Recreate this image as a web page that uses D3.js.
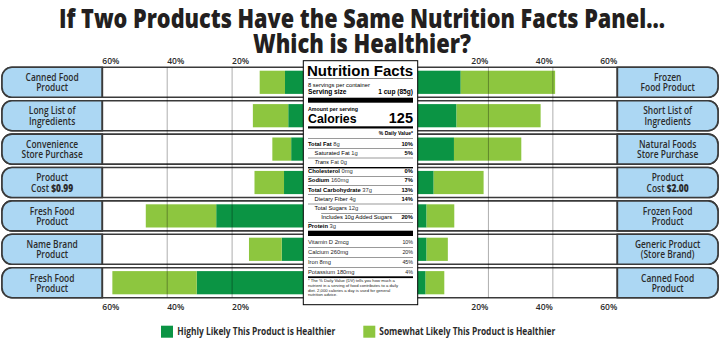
<!DOCTYPE html>
<html>
<head>
<meta charset="utf-8">
<script src="https://cdn.jsdelivr.net/npm/d3@7"></script>
<style>
  body { margin: 0; background: #fff; }
  svg { display: block; }
</style>
</head>
<body>
<script>
// ---- data ----
var leftLabels = [["Canned Food", "Product"], ["Long List of", "Ingredients"], ["Convenience", "Store Purchase"],
  ["Product", "Cost |$0.99"], ["Fresh Food", "Product"], ["Name Brand", "Product"], ["Fresh Food", "Product"]];
var rightLabels = [["Frozen", "Food Product"], ["Short List of", "Ingredients"], ["Natural Foods", "Store Purchase"],
  ["Product", "Cost |$2.00"], ["Frozen Food", "Product"], ["Generic Product", "(Store Brand)"], ["Canned Food", "Product"]];

// percent of respondents
var leftHighly   = [3.7, 2.7, 1.8, 4.0, 24.9, 4.7, 30.9];
var leftSomewhat = [7.8, 10.9, 5.8, 9.1, 21.7, 10.1, 26.0];
var rightHighly   = [11.4, 10.1, 9.3, 3.0, 0.8, 0.8, 0.5];
var rightSomewhat = [29.3, 26.1, 20.9, 15.5, 8.6, 6.6, 5.8];

var tickValues = [20, 40, 60];
var legendLabels = ["Highly Likely This Product is Healthier", "Somewhat Likely This Product is Healthier"];

var titleLines = ["If Two Products Have the Same Nutrition Facts Panel\u2026", "Which is Healthier?"];

// nutrition panel text
var nutrients = [
  {name: "Total Fat", amt: "8g", dv: "10%", indent: 0, bold: true},
  {name: "Saturated Fat", amt: "1g", dv: "5%", indent: 1},
  {name: "Trans", amt: "Fat 0g", dv: "", indent: 1, italic: true},
  {name: "Cholesterol", amt: "0mg", dv: "0%", indent: 0, bold: true},
  {name: "Sodium", amt: "160mg", dv: "7%", indent: 0, bold: true},
  {name: "Total Carbohydrate", amt: "37g", dv: "13%", indent: 0, bold: true},
  {name: "Dietary Fiber", amt: "4g", dv: "14%", indent: 1},
  {name: "Total Sugars", amt: "12g", dv: "", indent: 1},
  {name: "Includes 10g Added Sugars", amt: "", dv: "20%", indent: 2},
  {name: "Protein", amt: "3g", dv: "", indent: 0, bold: true}
];
var vitamins = [["Vitamin D 2mcg", "10%"], ["Calcium 260mg", "20%"], ["Iron 8mg", "45%"], ["Potassium 180mg", "4%"]];
var footnote = ["* The % Daily Value (DV) tells you how much a", "nutrient in a serving of food contributes to a daily",
  "diet. 2,000 calories a day is used for general", "nutrition advice."];

// ---- setup ----
var width = 720, height = 338;
var darkGreen = "#0b9444", lightGreen = "#8dc63f", blue = "#acd7f3", ink = "#2b2b2b";
var labelFont = "'Open Sans', sans-serif";
var panelFont = "'Liberation Sans', Arial, sans-serif";
var squeeze = 0.78; // fake a condensed face

var svg = d3.select("body").append("svg")
  .attr("width", width)
  .attr("height", height);

var xL = d3.scaleLinear().domain([0, 60]).range([297, 102.3]);
var xR = d3.scaleLinear().domain([0, 60]).range([424, 617.3]);
var y = d3.scaleBand().domain(d3.range(7)).range([67.3, 297.7]).paddingInner(0.102);
var tuck = 10; // bars run under the centre panel

// title
svg.selectAll("text.title")
  .data(titleLines)
  .enter()
  .append("text")
  .attr("class", "title")
  .attr("x", 362)
  .attr("y", function(d, i) { return 28 + i * 24.5; })
  .attr("text-anchor", "middle")
  .attr("textLength", function(d, i) { return i == 0 ? 606 : 218; })
  .attr("lengthAdjust", "spacingAndGlyphs")
  .attr("font-family", labelFont)
  .attr("font-weight", 800)
  .attr("font-size", "26px")
  .attr("fill", "#231f20")
  .text(function(d) { return d; });

// row frames
var rows = svg.append("g");
var bw = y.bandwidth(), r = 10;

rows.selectAll("rect.frame")
  .data(d3.range(7))
  .enter()
  .append("rect")
  .attr("x", 2)
  .attr("y", function(d) { return y(d); })
  .attr("width", width - 4)
  .attr("height", bw)
  .attr("rx", r)
  .attr("fill", "#fff")
  .attr("stroke", "#3a3a3a")
  .attr("stroke-width", 1.6);

function leftBox(top) {
  var x0 = 2, x1 = xL(60);
  return "M" + x1 + "," + top + "H" + (x0 + r) + "A" + r + "," + r + " 0 0 0 " + x0 + "," + (top + r) +
    "V" + (top + bw - r) + "A" + r + "," + r + " 0 0 0 " + (x0 + r) + "," + (top + bw) + "H" + x1 + "Z";
}
function rightBox(top) {
  var x0 = xR(60), x1 = width - 2;
  return "M" + x0 + "," + top + "H" + (x1 - r) + "A" + r + "," + r + " 0 0 1 " + x1 + "," + (top + r) +
    "V" + (top + bw - r) + "A" + r + "," + r + " 0 0 1 " + (x1 - r) + "," + (top + bw) + "H" + x0 + "Z";
}

rows.selectAll("path.lbox")
  .data(d3.range(7))
  .enter()
  .append("path")
  .attr("d", function(d) { return leftBox(y(d)); })
  .attr("fill", blue)
  .attr("stroke", "#3a3a3a")
  .attr("stroke-width", 1.6);

rows.selectAll("path.rbox")
  .data(d3.range(7))
  .enter()
  .append("path")
  .attr("d", function(d) { return rightBox(y(d)); })
  .attr("fill", blue)
  .attr("stroke", "#3a3a3a")
  .attr("stroke-width", 1.6);

// bars
var barInset = 3.4, barH = bw - 2 * barInset;
var bars = svg.append("g");

bars.selectAll("rect.lh")
  .data(leftHighly)
  .enter()
  .append("rect")
  .attr("x", function(d) { return xL(d); })
  .attr("y", function(d, i) { return y(i) + barInset; })
  .attr("width", function(d) { return xL(0) - xL(d) + tuck; })
  .attr("height", barH)
  .attr("fill", darkGreen);

bars.selectAll("rect.ls")
  .data(leftSomewhat)
  .enter()
  .append("rect")
  .attr("x", function(d, i) { return xL(leftHighly[i] + d); })
  .attr("y", function(d, i) { return y(i) + barInset; })
  .attr("width", function(d, i) { return xL(leftHighly[i]) - xL(leftHighly[i] + d); })
  .attr("height", barH)
  .attr("fill", lightGreen);

bars.selectAll("rect.rh")
  .data(rightHighly)
  .enter()
  .append("rect")
  .attr("x", xR(0) - tuck)
  .attr("y", function(d, i) { return y(i) + barInset; })
  .attr("width", function(d) { return xR(d) - xR(0) + tuck; })
  .attr("height", barH)
  .attr("fill", darkGreen);

bars.selectAll("rect.rs")
  .data(rightSomewhat)
  .enter()
  .append("rect")
  .attr("x", function(d, i) { return xR(rightHighly[i]); })
  .attr("y", function(d, i) { return y(i) + barInset; })
  .attr("width", function(d, i) { return xR(rightHighly[i] + d) - xR(rightHighly[i]); })
  .attr("height", barH)
  .attr("fill", lightGreen);

// grid lines
var gridTop = y(0), gridBot = y(6) + bw;
var grid = svg.append("g");
[xL, xR].forEach(function(sc) {
  grid.selectAll(null)
    .data(tickValues.slice(0, 2))
    .enter()
    .append("line")
    .attr("x1", function(d) { return sc(d); })
    .attr("x2", function(d) { return sc(d); })
    .attr("y1", gridTop)
    .attr("y2", gridBot)
    .attr("stroke", "#000")
    .attr("stroke-opacity", 0.32)
    .attr("stroke-width", 1);
});

// separators at 60%
[xL, xR].forEach(function(sc) {
  grid.selectAll(null)
    .data(d3.range(7))
    .enter()
    .append("line")
    .attr("x1", sc(60))
    .attr("x2", sc(60))
    .attr("y1", function(d) { return y(d); })
    .attr("y2", function(d) { return y(d) + bw; })
    .attr("stroke", "#3a3a3a")
    .attr("stroke-width", 1.6);
});

// axis labels top and bottom
[{sc: xL, anchor: "start"}, {sc: xR, anchor: "end"}].forEach(function(side) {
  [64, 309.5].forEach(function(ty) {
    svg.selectAll(null)
      .data(tickValues)
      .enter()
      .append("text")
      .attr("x", function(d) { return side.sc(d); })
      .attr("y", ty)
      .attr("text-anchor", side.anchor)
      .attr("font-family", labelFont)
      .attr("font-weight", 600)
      .attr("font-size", "8.5px")
      .attr("fill", ink)
      .text(function(d) { return d + "%"; });
  });
});

// row labels (a "|" marks where the bold price starts)
function drawLabels(labels, cx) {
  labels.forEach(function(lines, i) {
    var cy = y(i) + bw / 2;
    lines.forEach(function(line, j) {
      var parts = line.split("|");
      var t = svg.append("text")
        .attr("transform", "translate(" + cx + "," + (cy - 1.2 + j * 10.2) + ") scale(" + squeeze + ",1)")
        .attr("text-anchor", "middle")
        .attr("font-family", labelFont)
        .attr("font-weight", 600)
        .attr("font-size", "10.8px")
        .attr("fill", ink);
      t.append("tspan").text(parts[0]);
      if (parts.length > 1) t.append("tspan").attr("font-weight", 800).text(parts[1]);
    });
  });
}
drawLabels(leftLabels, (2 + xL(60)) / 2);
drawLabels(rightLabels, (xR(60) + width - 2) / 2);

// ---- nutrition facts panel ----
var px0 = 303.3, px1 = 417.7, pTop = 60.7, pBot = 304.7;
var in0 = 308, in1 = 413;
var panel = svg.append("g").attr("font-family", panelFont).attr("fill", "#000");

panel.append("rect")
  .attr("x", px0).attr("y", pTop)
  .attr("width", px1 - px0).attr("height", pBot - pTop)
  .attr("fill", "#fff").attr("stroke", "#000").attr("stroke-width", 1);

function rule(yy, h, x0) {
  panel.append("rect").attr("x", x0 || in0).attr("y", yy).attr("width", in1 - (x0 || in0)).attr("height", h).attr("fill", "#000");
}
function txt(x, yy, s, size, weight, anchor) {
  return panel.append("text").attr("x", x).attr("y", yy)
    .attr("font-size", size + "px").attr("font-weight", weight || "normal")
    .attr("text-anchor", anchor || "start").text(s);
}

txt(in0 - 1, 76, "Nutrition Facts", 14, "bold").attr("textLength", 106).attr("lengthAdjust", "spacingAndGlyphs");
rule(78.4, 0.5);
txt(in0, 86.7, "8 servings per container", 5.8);
txt(in0, 93.8, "Serving size", 6.6, "bold");
txt(in1, 93.8, "1 cup (85g)", 6.6, "bold", "end");
rule(97.7, 5);
txt(in0, 110.5, "Amount per serving", 5.3, "bold");
txt(in0, 122.5, "Calories", 12.3, "bold");
txt(in1, 122.5, "125", 14.5, "bold", "end");
rule(126.3, 2.2);
txt(in1, 134.8, "% Daily Value*", 5, "bold", "end");
rule(138.3, 0.4);

var nBase = 145.5, nStep = 9.2;
nutrients.forEach(function(n, i) {
  var by = nBase + i * nStep;
  var t = panel.append("text").attr("x", in0 + n.indent * 6.6).attr("y", by).attr("font-size", "5.8px");
  t.append("tspan").attr("font-weight", n.bold ? "bold" : "normal").attr("font-style", n.italic ? "italic" : "normal").text(n.name);
  if (n.amt) t.append("tspan").attr("fill", "#333").text(" " + n.amt);
  if (n.dv) txt(in1, by, n.dv, 5.8, "bold", "end");
  if (i < nutrients.length - 1) {
    var ly = by + 3.1;
    var next = nutrients[i + 1];
    rule(ly, next.name == "Cholesterol" ? 1.4 : 0.4, next.indent == 2 ? in0 + 13.2 : in0);
  }
});
rule(230.7, 5.3);

var vBase = 244.2, vStep = 9.8;
vitamins.forEach(function(v, i) {
  var by = vBase + i * vStep;
  txt(in0, by, v[0], 5.8).attr("fill", "#222");
  txt(in1, by, v[1], 5.3, "normal", "end").attr("fill", "#222");
  if (i < vitamins.length - 1) rule(by + 3.2, 0.4);
});
rule(276.3, 1.8);

footnote.forEach(function(s, i) {
  txt(in0, 282.3 + i * 4.7, s, 4.2).attr("fill", "#222");
});

// legend
var legend = svg.append("g");
legend.selectAll("rect")
  .data(legendLabels)
  .enter()
  .append("rect")
  .attr("x", function(d, i) { return i == 0 ? 161 : 363.3; })
  .attr("y", 325.7)
  .attr("width", 12)
  .attr("height", 12)
  .attr("fill", function(d, i) { return i == 0 ? darkGreen : lightGreen; });

legend.selectAll("text")
  .data(legendLabels)
  .enter()
  .append("text")
  .attr("x", function(d, i) { return i == 0 ? 177.3 : 379.3; })
  .attr("y", 335.3)
  .attr("textLength", function(d, i) { return i == 0 ? 158 : 176; })
  .attr("lengthAdjust", "spacingAndGlyphs")
  .attr("font-family", labelFont)
  .attr("font-weight", "bold")
  .attr("font-size", "10px")
  .attr("fill", ink)
  .text(function(d) { return d; });
</script>
</body>
</html>
